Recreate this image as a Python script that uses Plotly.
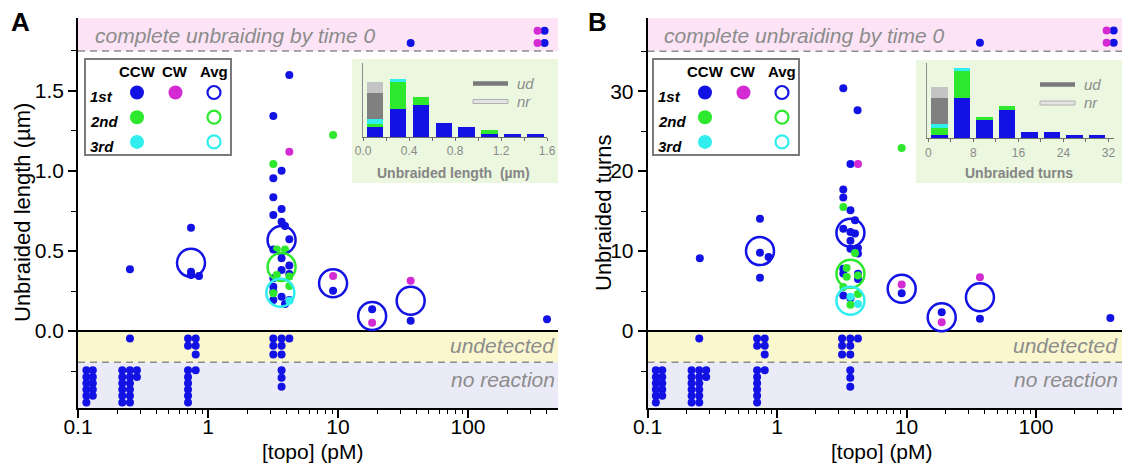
import plotly.graph_objects as go

W, H = 1122, 465
FONT = "Liberation Sans, Arial, Helvetica, sans-serif"

BLUE = "#1212e4"
GREEN = "#2ee82e"
CYAN = "#30eeee"
MAGENTA = "#d42ad4"
GRAY_TXT = "#8c8c8c"
UD_GRAY = "#808080"
NR_GRAY = "#c4c4c4"

# ---------------- Panel A : unbraided length (um) ----------------
A_ccw1_x = [36.2, 388, 388, 0.251, 0.74, 0.74, 0.74, 0.853,
            4.22, 3.18, 3.68, 3.18, 3.18, 3.68, 3.18, 3.68, 3.91, 4.22,
            3.18, 3.68, 4.22, 3.68, 4.22, 3.18, 3.18, 3.18, 3.68, 3.18, 4.22, 3.91,
            9.16, 18.3, 36.2, 405]
A_ccw1_y = [1.80, 1.877, 1.80, 0.386, 0.646, 0.37, 0.35, 0.344,
            1.60, 1.344, 1.002, 0.954, 0.836, 0.763, 0.725, 0.683, 0.656, 0.573,
            0.51, 0.454, 0.41, 0.381, 0.356, 0.33, 0.277, 0.246, 0.214, 0.194, 0.194, 0.169,
            0.252, 0.136, 0.064, 0.073]
A_ccw2_x = [9.16, 3.18, 3.38, 3.91, 3.38, 4.22, 4.22, 3.18]
A_ccw2_y = [1.225, 1.044, 0.51, 0.51, 0.35, 0.34, 0.281, 0.236]
A_ccw3_x = [4.22]
A_ccw3_y = [0.189]
A_cw_x = [342.6, 342.6, 4.22, 9.16, 18.3, 36.2]
A_cw_y = [1.877, 1.80, 1.121, 0.344, 0.052, 0.314]
A_avg1_x = [0.74, 3.68, 9.16, 18.3, 36.2]
A_avg1_y = [0.426, 0.569, 0.298, 0.094, 0.189]
A_avg2_x = [3.68]
A_avg2_y = [0.40]
A_avg3_x = [3.6]
A_avg3_y = [0.239]

# ---------------- Panel B : unbraided turns ----------------
B_ccw1_x = [36.9, 398, 398, 0.2535, 0.739, 0.739, 0.861, 0.739,
            3.25, 4.19, 3.69, 3.25, 3.25, 3.69, 4.0, 3.25, 3.69, 4.0, 3.69, 3.69, 4.22, 4.22,
            3.25, 3.25, 4.22, 4.22, 3.25, 3.69,
            9.18, 18.7, 36.9, 375]
B_ccw1_y = [36.07, 37.6, 36.07, 9.12, 14.06, 9.8, 9.25, 6.67,
            30.35, 27.6, 20.9, 17.7, 16.7, 15.1, 13.85, 12.8, 12.4, 12.2, 11.3, 10.3, 10.4, 9.7,
            7.8, 7.2, 7.17, 6.5, 4.45, 4.1,
            4.74, 2.36, 1.53, 1.65]
B_ccw2_x = [9.18, 3.25, 4.0, 3.45, 3.45, 4.22, 3.25, 4.22, 3.69]
B_ccw2_y = [22.9, 15.5, 9.75, 7.9, 6.8, 6.95, 5.5, 4.65, 3.3]
B_ccw3_x = [3.69, 4.22]
B_ccw3_y = [4.3, 3.4]
B_cw_x = [351, 351, 4.22, 9.18, 18.7, 36.9]
B_cw_y = [37.6, 36.07, 20.9, 5.83, 1.1, 6.74]
B_avg1_x = [0.739, 3.69, 9.18, 18.7, 36.9]
B_avg1_y = [10.0, 12.3, 5.3, 1.73, 4.24]
B_avg2_x = [3.69]
B_avg2_y = [7.17]
B_avg3_x = [3.69]
B_avg3_y = [3.8]

# ---------------- undetected / no reaction (both panels) ----------------
UD_x = [0.251, 0.702, 0.804, 0.702, 0.804, 0.804, 3.18, 3.68, 4.22, 3.18, 3.68, 3.18, 3.68]
A_ud_y = [-0.046, -0.046, -0.046, -0.092, -0.092, -0.146, -0.046, -0.046, -0.046, -0.092, -0.092, -0.146, -0.146]
B_ud_y = [-0.92, -0.92, -0.92, -1.84, -1.84, -2.92, -0.92, -0.92, -0.92, -1.84, -1.84, -2.92, -2.92]
NR_x = [0.116, 0.130, 0.116, 0.130, 0.116, 0.130, 0.116, 0.130, 0.116, 0.130, 0.116,
        0.219, 0.251, 0.284, 0.219, 0.251, 0.284, 0.219, 0.251, 0.219, 0.251, 0.219, 0.251, 0.219, 0.251,
        0.702, 0.804, 0.702, 0.702, 0.702, 0.702, 0.702,
        3.68, 3.68, 3.68]
A_nr_y = [-0.245, -0.245, -0.287, -0.287, -0.327, -0.327, -0.365, -0.365, -0.405, -0.405, -0.447,
          -0.245, -0.245, -0.245, -0.287, -0.287, -0.287, -0.327, -0.327, -0.365, -0.365, -0.405, -0.405, -0.447, -0.447,
          -0.245, -0.245, -0.287, -0.327, -0.365, -0.405, -0.447,
          -0.245, -0.292, -0.348]
B_nr_y = [-4.9, -4.9, -5.74, -5.74, -6.54, -6.54, -7.3, -7.3, -8.1, -8.1, -8.94,
          -4.9, -4.9, -4.9, -5.74, -5.74, -5.74, -6.54, -6.54, -7.3, -7.3, -8.1, -8.1, -8.94, -8.94,
          -4.9, -4.9, -5.74, -6.54, -7.3, -8.1, -8.94,
          -4.9, -5.84, -6.96]

# ---------------- inset histograms ----------------
A_bins = [0.1, 0.3, 0.5, 0.7, 0.9, 1.1, 1.3, 1.5]
A_h_blue = [3.0, 8.6, 9.8, 4.2, 3.0, 0.8, 0.9, 0.9]
A_h_green = [1.0, 8.1, 2.3, 0, 0, 1.2, 0, 0]
A_h_cyan = [1.3, 1.0, 0, 0, 0, 0, 0, 0]
A_h_ud = [8.0, 0, 0, 0, 0, 0, 0, 0]
A_h_nr = [3.3, 0, 0, 0, 0, 0, 0, 0]
B_bins = [2, 6, 10, 14, 18, 22, 26, 30]
B_h_blue = [1.0, 12.1, 5.4, 8.6, 2.0, 2.0, 1.0, 1.0]
B_h_green = [2.0, 8.1, 1.1, 1.2, 0, 0, 0, 0]
B_h_cyan = [1.2, 1.0, 0, 0, 0, 0, 0, 0]
B_h_ud = [7.9, 0, 0, 0, 0, 0, 0, 0]
B_h_nr = [3.3, 0, 0, 0, 0, 0, 0, 0]

# legend grid
LEG_cols = ["CCW", "CW", "Avg"]
LEG_rows = ["1st", "2nd", "3rd"]
LEG_colors = [BLUE, GREEN, CYAN]

X_MINOR = [0.2, 0.3, 0.4, 0.5, 0.6, 0.7, 0.8, 0.9, 2, 3, 4, 5, 6, 7, 8, 9,
           20, 30, 40, 50, 60, 70, 80, 90, 200, 300, 400]


def PX(x):
    return x / W


def PY(y):
    return 1 - y / H


fig = go.Figure()


def dots(x, y, color, xa, ya, size=8):
    fig.add_trace(go.Scatter(x=x, y=y, mode="markers", xaxis=xa, yaxis=ya,
                             marker=dict(size=size, color=color, line=dict(width=0)),
                             hoverinfo="skip", showlegend=False))


def rings(x, y, color, xa, ya, size=28, lw=2.5):
    fig.add_trace(go.Scatter(x=x, y=y, mode="markers", xaxis=xa, yaxis=ya,
                             marker=dict(size=size, symbol="circle-open", color=color,
                                         line=dict(width=lw, color=color)),
                             hoverinfo="skip", showlegend=False))


# Panel A traces
dots(UD_x, A_ud_y, BLUE, "x", "y")
dots(NR_x, A_nr_y, BLUE, "x", "y")
dots(A_ccw1_x, A_ccw1_y, BLUE, "x", "y")
dots(A_ccw2_x, A_ccw2_y, GREEN, "x", "y")
dots(A_ccw3_x, A_ccw3_y, CYAN, "x", "y")
dots(A_cw_x, A_cw_y, MAGENTA, "x", "y")
rings(A_avg1_x, A_avg1_y, BLUE, "x", "y")
rings(A_avg2_x, A_avg2_y, GREEN, "x", "y")
rings(A_avg3_x, A_avg3_y, CYAN, "x", "y")

# Panel B traces
dots(UD_x, B_ud_y, BLUE, "x2", "y2")
dots(NR_x, B_nr_y, BLUE, "x2", "y2")
dots(B_ccw1_x, B_ccw1_y, BLUE, "x2", "y2")
dots(B_ccw2_x, B_ccw2_y, GREEN, "x2", "y2")
dots(B_ccw3_x, B_ccw3_y, CYAN, "x2", "y2")
dots(B_cw_x, B_cw_y, MAGENTA, "x2", "y2")
rings(B_avg1_x, B_avg1_y, BLUE, "x2", "y2")
rings(B_avg2_x, B_avg2_y, GREEN, "x2", "y2")
rings(B_avg3_x, B_avg3_y, CYAN, "x2", "y2")

# Inset histograms
for bins, series, xa, ya, w in [
    (A_bins, [A_h_blue, A_h_green, A_h_cyan, A_h_ud, A_h_nr], "x3", "y3", 0.14),
    (B_bins, [B_h_blue, B_h_green, B_h_cyan, B_h_ud, B_h_nr], "x4", "y4", 2.9),
]:
    for vals, col in zip(series, [BLUE, GREEN, CYAN, UD_GRAY, NR_GRAY]):
        fig.add_trace(go.Bar(x=bins, y=vals, width=w, marker=dict(color=col, line=dict(width=0)),
                             xaxis=xa, yaxis=ya, hoverinfo="skip", showlegend=False))

# Legend grids
for xa, ya in [("x5", "y5"), ("x6", "y6")]:
    dots([0, 0, 0], [0, 1, 2], LEG_colors, xa, ya, size=14)
    dots([1], [0], MAGENTA, xa, ya, size=14)
    rings([2, 2, 2], [0, 1, 2], LEG_colors, xa, ya, size=13, lw=2.2)

annotations = []
shapes = []

# main-panel decorations
for xa, ya, top, dash_hi, dash_lo, bottom in [("x", "y", 1.956, 1.75, -0.195, -0.481),
                                              ("x2", "y2", 39.15, 35.0, -3.9, -9.62)]:
    xd = xa + " domain"
    shapes += [
        dict(type="rect", xref=xd, yref=ya, x0=0, x1=1, y0=dash_hi, y1=top,
             fillcolor="#fce4f6", line=dict(width=0), layer="below"),
        dict(type="rect", xref=xd, yref=ya, x0=0, x1=1, y0=dash_lo, y1=0,
             fillcolor="#faf7cf", line=dict(width=0), layer="below"),
        dict(type="rect", xref=xd, yref=ya, x0=0, x1=1, y0=bottom, y1=dash_lo,
             fillcolor="#ebebf7", line=dict(width=0), layer="below"),
        dict(type="line", xref=xd, yref=ya, x0=0, x1=1, y0=dash_hi, y1=dash_hi,
             line=dict(color="#8c8c8c", width=1.5, dash="7px,5px"), layer="below"),
        dict(type="line", xref=xd, yref=ya, x0=0, x1=1, y0=dash_lo, y1=dash_lo,
             line=dict(color="#8c8c8c", width=1.5, dash="7px,5px"), layer="below"),
    ]

# inset backgrounds
shapes += [
    dict(type="rect", xref="paper", yref="paper", x0=PX(352), x1=PX(558), y0=PY(183), y1=PY(59),
         fillcolor="#ebf7de", line=dict(width=0), layer="below"),
    dict(type="rect", xref="paper", yref="paper", x0=PX(916), x1=1.0, y0=PY(183), y1=PY(60),
         fillcolor="#ebf7de", line=dict(width=0), layer="below"),
]

# inset ud / nr keys
for x0, x1, yud, ynr, xt in [(473, 508, 83.5, 101.5, 515), (1040, 1075, 84.5, 103, 1082)]:
    shapes += [
        dict(type="line", xref="paper", yref="paper", x0=PX(x0), x1=PX(x1), y0=PY(yud), y1=PY(yud),
             line=dict(color="#7a7a7a", width=4.5)),
        dict(type="rect", xref="paper", yref="paper", x0=PX(x0), x1=PX(x1), y0=PY(ynr + 2), y1=PY(ynr - 2),
             fillcolor="#e4e4e4", line=dict(color="#b0b0b0", width=1)),
    ]
    annotations += [
        dict(text="<i>ud</i>", x=PX(xt), y=PY(yud), xref="paper", yref="paper", xanchor="left",
             yanchor="middle", showarrow=False, font=dict(size=15, color=GRAY_TXT, family=FONT)),
        dict(text="<i>nr</i>", x=PX(xt), y=PY(ynr), xref="paper", yref="paper", xanchor="left",
             yanchor="middle", showarrow=False, font=dict(size=15, color=GRAY_TXT, family=FONT)),
    ]

# text annotations
def txt(text, x, y, size, color="black", xanchor="center", yanchor="middle", angle=0):
    annotations.append(dict(text=text, x=PX(x), y=PY(y), xref="paper", yref="paper",
                            xanchor=xanchor, yanchor=yanchor, showarrow=False, textangle=angle,
                            font=dict(size=size, color=color, family=FONT)))


txt("<b>A</b>", 20, 22, 26)
txt("<b>B</b>", 597, 22, 26)
for left, right in [(93, 557), (662, 1120)]:
    txt("<i>complete unbraiding by time 0</i>", left, 35, 21, GRAY_TXT, xanchor="left")
    txt("<i>undetected</i>", right, 345, 21, GRAY_TXT, xanchor="right")
    txt("<i>no reaction</i>", right, 379, 21, GRAY_TXT, xanchor="right")
txt("Unbraided length (\u00b5m)", 23, 213, 22, angle=-90)
txt("Unbraided turns", 604, 213, 22, angle=-90)
txt("[topo] (pM)", 313, 451, 21)
txt("[topo] (pM)", 882, 451, 21)
txt("<b>Unbraided length  (\u00b5m)</b>", 453, 173, 14, "#858585")
txt("<b>Unbraided turns</b>", 1019, 173, 14, "#858585")

# legend texts
for xa, ya in [("x5", "y5"), ("x6", "y6")]:
    for i, c in enumerate(LEG_cols):
        annotations.append(dict(text="<b>%s</b>" % c, x=i, y=-0.85, xref=xa, yref=ya, showarrow=False,
                                xanchor="center", yanchor="middle",
                                font=dict(size=15, color="black", family=FONT)))
    for j, r in enumerate(LEG_rows):
        annotations.append(dict(text="<b><i>%s</i></b>" % r, x=-1.27, y=j + 0.17, xref=xa, yref=ya,
                                showarrow=False, xanchor="left", yanchor="middle",
                                font=dict(size=15, color="black", family=FONT)))

main_x = dict(type="log", showline=True, linecolor="black", linewidth=1.5, ticks="outside",
              ticklen=8, tickwidth=1.5, tickcolor="black", tickvals=[0.1, 1, 10, 100],
              ticktext=["0.1", "1", "10", "100"], tickfont=dict(size=21, family=FONT, color="black"),
              ticklabelstandoff=-9,
              minor=dict(tickvals=X_MINOR, ticks="outside", ticklen=4, tickwidth=1, tickcolor="black",
                         showgrid=False),
              showgrid=False, zeroline=False, automargin=False)
main_y = dict(showline=True, linecolor="black", linewidth=1.5, ticks="outside", ticklen=8,
              tickwidth=1.5, tickcolor="black", tickfont=dict(size=21, family=FONT, color="black"),
              showgrid=False, zeroline=True, zerolinecolor="black", zerolinewidth=1.5,
              automargin=False)

inset_x = dict(showline=True, linecolor="#6e6e6e", linewidth=1, ticks="outside", ticklen=3,
               tickcolor="#6e6e6e", tickfont=dict(size=12, family=FONT, color="#8a8a8a"),
               showgrid=False, zeroline=False, automargin=False)
inset_y = dict(showline=True, linecolor="#8a8a8a", linewidth=1, ticks="", showticklabels=False,
               showgrid=False, zeroline=False, automargin=False)
leg_ax = dict(showline=True, mirror=True, linecolor="#7a7a7a", linewidth=2, ticks="",
              showticklabels=False, showgrid=False, zeroline=False, automargin=False)

fig.update_layout(
    width=W, height=H, margin=dict(l=0, r=0, t=0, b=0, pad=0, autoexpand=False),
    paper_bgcolor="white", plot_bgcolor="rgba(0,0,0,0)",
    showlegend=False, barmode="stack", font=dict(family=FONT),
    xaxis=dict(main_x, domain=[PX(78), PX(558)], range=[-1, 2.692], anchor="y"),
    yaxis=dict(main_y, domain=[PY(408), PY(18)], range=[-0.481, 1.956], anchor="x",
               tickvals=[0, 0.5, 1.0, 1.5], ticktext=["0.0", "0.5", "1.0", "1.5"],
               minor=dict(tickvals=[-0.25, 0.25, 0.75, 1.25, 1.75], ticks="outside", ticklen=5,
                          tickwidth=1.2, tickcolor="black", showgrid=False)),
    xaxis2=dict(main_x, domain=[PX(647.5), 1.0], range=[-1, 2.664], anchor="y2"),
    yaxis2=dict(main_y, domain=[PY(408), PY(18)], range=[-9.62, 39.15], anchor="x2",
                tickvals=[0, 10, 20, 30], ticktext=["0", "10", "20", "30"],
                minor=dict(tickvals=[-5, 5, 15, 25, 35], ticks="outside", ticklen=5,
                           tickwidth=1.2, tickcolor="black", showgrid=False)),
    xaxis3=dict(inset_x, domain=[PX(362.5), PX(547)], range=[-0.005, 1.6], anchor="y3",
                tickvals=[0, 0.4, 0.8, 1.2, 1.6], ticktext=["0.0", "0.4", "0.8", "1.2", "1.6"],
                minor=dict(tickvals=[0.2, 0.6, 1.0, 1.4], ticks="outside", ticklen=3, tickcolor="#6e6e6e")),
    yaxis3=dict(inset_y, domain=[PY(137), PY(63)], range=[0, 22.4], anchor="x3"),
    xaxis4=dict(inset_x, domain=[PX(926.7), PX(1114)], range=[-0.3, 33.0], anchor="y4",
                tickvals=[0, 8, 16, 24, 32], ticktext=["0", "8", "16", "24", "32"],
                minor=dict(tickvals=[4, 12, 20, 28], ticks="outside", ticklen=3, tickcolor="#6e6e6e")),
    yaxis4=dict(inset_y, domain=[PY(138.3), PY(63)], range=[0, 22.7], anchor="x4"),
    xaxis5=dict(leg_ax, domain=[PX(86), PX(230)], range=[-1.325, 2.416], anchor="y5"),
    yaxis5=dict(leg_ax, domain=[PY(154), PY(60)], range=[2.49, -1.316], anchor="x5"),
    xaxis6=dict(leg_ax, domain=[PX(654), PX(798)], range=[-1.325, 2.416], anchor="y6"),
    yaxis6=dict(leg_ax, domain=[PY(154), PY(60)], range=[2.49, -1.316], anchor="x6"),
    shapes=shapes, annotations=annotations,
)

fig.write_html("out.html", config={"displayModeBar": False})
